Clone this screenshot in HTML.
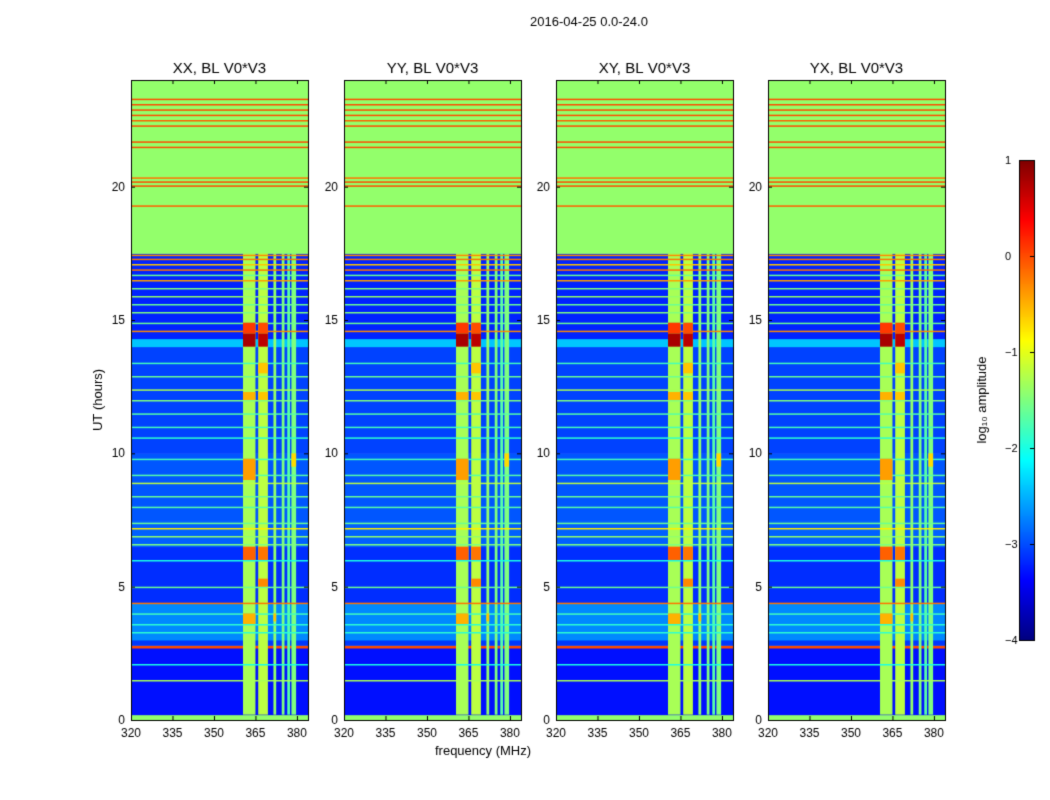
<!DOCTYPE html>
<html><head><meta charset="utf-8">
<style>
body{margin:0;background:#fff;font-family:"Liberation Sans",sans-serif;}
#wrap{position:relative;width:1050px;height:800px;overflow:hidden;}
canvas{position:absolute;left:0;top:0;}
</style></head>
<body>
<div id="wrap">
<canvas id="c" width="1050" height="800"></canvas>
</div>
<script>
// ---- data ----
const panelTitles = ["XX, BL V0*V3","YY, BL V0*V3","XY, BL V0*V3","YX, BL V0*V3"];
const xTicks = [320,335,350,365,380];
const yTicks = [0,5,10,15,20];
const cbTicks = [1,0,-1,-2,-3,-4];
// row bands: [startHour, endHour, log10 amplitude]
const rowBands = [[0,0.2,-1.4],[0.2,2.7,-3.3],[2.7,2.8,0],[2.8,3.0,-3.1],[3.0,4.4,-2.7],[4.4,6.5,-3.15],
 [6.5,7.5,-2.9],[7.5,10,-2.95],[10,14,-3.05],[14,14.3,-2.4],[14.3,17.5,-3.2],[17.5,24,-1.4]];
// thin lines: [hour, value]
const rowLines = [[1.5,-1.3],[2.1,-2],[3.3,-1.9],[3.6,-1.9],[4.0,-1.8],[4.4,-0.2],[5.0,-1.6],[6.0,-2],[6.6,-1.5],[6.9,-1.4],
 [7.2,-0.8],[7.4,-1.6],[8.0,-1.7],[8.4,-1.6],[8.9,-1.2],[9.2,-1.7],[9.8,-1.8],[10.6,-1.9],[11.0,-1.8],[11.5,-1.7],
 [12.0,-1.5],[12.4,-1.3],[12.9,-1.6],[13.4,-1.8],[14.6,-0.3],[14.9,-1.6],[15.3,-1.5],[15.6,-1.6],[15.9,-1.4],[16.2,-1.5],
 [16.5,-0.4],[16.7,-1.6],[16.9,-0.2],[17.1,-0.6],[17.3,-0.2],[17.45,-0.3],[19.3,-0.1],[20.05,0],[20.2,0],[20.35,-0.2],
 [21.5,0],[21.7,0],[22.3,0],[22.5,-0.1],[22.7,0],[22.9,0],[23.1,0],[23.3,0]];
// RFI channels: [startMHz, endMHz, value]
const channels = [[360.5,365,-1.3],[366,369.5,-1.2],[371.5,372.5,-1.4],[374.5,375.5,-1.5],[376.5,377.5,-1.7],[378,379.7,-1.5]];
// hot spots: [startMHz, endMHz, startHour, endHour, value]
const hotSpots = [[360.5,365,14,14.5,0.8],[366,369.5,14,14.5,0.7],[360.5,365,14.5,14.9,0.1],[366,369.5,14.5,14.9,0],
 [360.5,365,6,6.5,-0.1],[366,369.5,6,6.5,-0.2],[360.5,365,9,9.8,-0.4],[366,369.5,5,5.3,-0.3],[360.5,365,3.6,4,-0.5],[371.5,372.5,3.7,4,-0.6],
 [360.5,365,12,12.3,-0.5],[366,369.5,12,12.3,-0.6],[378,379.7,9.5,10,-0.7],[366,369.5,13,13.4,-0.6]];
// ---- layout ----
const panelsX=[131,344,556,768], pw=177, plotTop=80, plotBot=720;
const fmin=320, fmax=384, hmax=24;
function jet(v){let t=(v+4)/5;t=Math.max(0,Math.min(1,t));
 const r=Math.max(0,Math.min(1,1.5-Math.abs(4*t-3))),g=Math.max(0,Math.min(1,1.5-Math.abs(4*t-2))),b=Math.max(0,Math.min(1,1.5-Math.abs(4*t-1)));
 return `rgb(${r*255|0},${g*255|0},${b*255|0})`;}
const c=document.getElementById('c'),ctx=c.getContext('2d');
ctx.fillStyle='#fff';ctx.fillRect(0,0,1050,800);
function yOf(h){return plotBot-(h/hmax)*(plotBot-plotTop);}
panelsX.forEach((px,pi)=>{
 const xOf=f=>px+(f-fmin)/(fmax-fmin)*pw;
 rowBands.forEach(b=>{ctx.fillStyle=jet(b[2]);ctx.fillRect(px,yOf(b[1]),pw,yOf(b[0])-yOf(b[1])+0.5);});
 channels.forEach(ch=>{ctx.fillStyle=jet(ch[2]);ctx.fillRect(xOf(ch[0]),yOf(17.5),xOf(ch[1])-xOf(ch[0]),yOf(0.2)-yOf(17.5));});
 rowLines.forEach(l=>{ctx.fillStyle=jet(l[1]);ctx.fillRect(px,yOf(l[0]),pw,1.5);});
 hotSpots.forEach(s=>{ctx.fillStyle=jet(s[4]);ctx.fillRect(xOf(s[0]),yOf(s[3]),xOf(s[1])-xOf(s[0]),yOf(s[2])-yOf(s[3]));});
 ctx.strokeStyle='#000';ctx.lineWidth=1;ctx.strokeRect(px+0.5,plotTop+0.5,pw,plotBot-plotTop);
 ctx.fillStyle='#000';ctx.font='12px "Liberation Sans"';ctx.textAlign='center';
 xTicks.forEach(t=>{const x=xOf(t);ctx.fillRect(x,plotBot-4,1,4);ctx.fillRect(x,plotTop,1,4);ctx.fillText(t,x,plotBot+17);});
 ctx.textAlign='right';
 yTicks.forEach(t=>{const y=yOf(t);ctx.fillRect(px,y,4,1);ctx.fillRect(px+pw-4,y,4,1);ctx.fillText(t,px-6,y+4);});
 ctx.textAlign='center';ctx.font='15px "Liberation Sans"';ctx.fillText(panelTitles[pi],px+pw/2,73);
});
ctx.fillStyle='#000';ctx.font='13px "Liberation Sans"';ctx.textAlign='center';
ctx.fillText('2016-04-25 0.0-24.0',589,26);
ctx.fillText('frequency (MHz)',483,755);
ctx.save();ctx.translate(102,400);ctx.rotate(-Math.PI/2);ctx.fillText('UT (hours)',0,0);ctx.restore();
// colorbar
const cbx=1019,cbw=15,cbt=160,cbb=640;
for(let y=cbt;y<cbb;y++){ctx.fillStyle=jet(1-(y-cbt)/(cbb-cbt)*5);ctx.fillRect(cbx,y,cbw,1);}
ctx.strokeStyle='#000';ctx.strokeRect(cbx+0.5,cbt+0.5,cbw,cbb-cbt);
ctx.textAlign='left';ctx.font='11px "Liberation Sans"';
cbTicks.forEach(t=>{const y=cbt+(1-t)/5*(cbb-cbt);ctx.fillStyle='#000';ctx.fillRect(cbx+cbw-4,y,4,1);ctx.fillText(t<0?'\u2212'+(-t):String(t),1005,y+4);});
ctx.save();ctx.translate(986,400);ctx.rotate(-Math.PI/2);ctx.textAlign='center';ctx.font='13px "Liberation Sans"';ctx.fillText('log\u2081\u2080 amplitude',0,0);ctx.restore();
</script>
</body></html>
